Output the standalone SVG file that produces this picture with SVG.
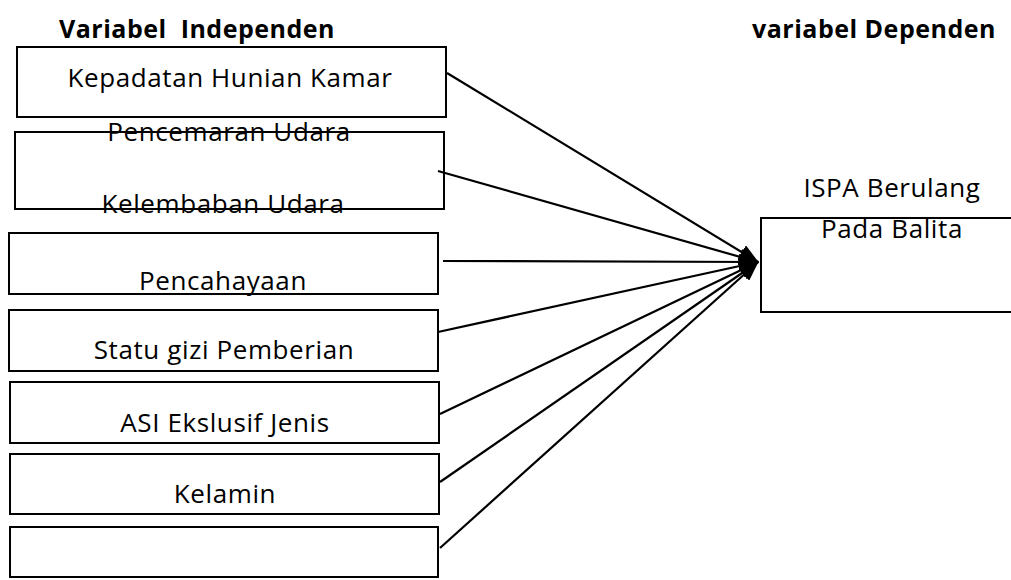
<svg xmlns="http://www.w3.org/2000/svg" width="1011" height="580" viewBox="0 0 1011 580">
<defs>
<style>
.box{fill:#fff;stroke:#000;stroke-width:2}
.t{font-family:"Open Sans","Liberation Sans",sans-serif;font-size:26px;letter-spacing:0.6px;fill:#000;text-anchor:middle}
.h{font-family:"Open Sans","Liberation Sans",sans-serif;font-size:25px;letter-spacing:0.5px;font-weight:bold;fill:#000;white-space:pre}
.c{stroke:#000;stroke-width:2.2;fill:none;marker-end:url(#ah)}
</style>
<marker id="ah" markerWidth="20" markerHeight="16" refX="19" refY="8" orient="auto" markerUnits="userSpaceOnUse" viewBox="0 0 20 16">
<path d="M0,0 L20,8 L0,16 z" fill="#000"/>
</marker>
</defs>
<rect width="1011" height="580" fill="#fff"/>
<text class="h" x="59" y="38" xml:space="preserve">Variabel  Independen</text>
<text class="h" x="752" y="38">variabel Dependen</text>
<g id="n1"><rect class="box" x="17" y="47" width="429" height="70"/><text class="t" x="230" y="87">Kepadatan Hunian Kamar</text></g>
<g id="n2"><rect class="box" x="15" y="132" width="429" height="77"/><text class="t" x="229" y="141">Pencemaran Udara</text><text class="t" x="223" y="213">Kelembaban Udara</text></g>
<g id="n3"><rect class="box" x="9" y="233" width="429" height="61"/><text class="t" x="223" y="290">Pencahayaan</text></g>
<g id="n4"><rect class="box" x="9" y="310" width="429" height="61"/><text class="t" x="224" y="359">Statu gizi Pemberian</text></g>
<g id="n5"><rect class="box" x="10" y="382" width="429" height="61"/><text class="t" x="225" y="432">ASI Ekslusif Jenis</text></g>
<g id="n6"><rect class="box" x="10" y="454" width="429" height="60"/><text class="t" x="225" y="503">Kelamin</text></g>
<g id="n7"><rect class="box" x="10" y="527" width="428" height="50"/></g>
<g id="n8"><rect class="box" x="761" y="218" width="252" height="94"/><text class="t" x="892" y="197">ISPA Berulang</text><text class="t" x="892" y="238">Pada Balita</text></g>
<g id="connectors">
<line class="c" x1="447" y1="73" x2="758" y2="262"/>
<line class="c" x1="438" y1="171" x2="758" y2="262"/>
<line class="c" x1="443" y1="261" x2="758" y2="262"/>
<line class="c" x1="438" y1="332" x2="758" y2="262"/>
<line class="c" x1="440" y1="414" x2="758" y2="262"/>
<line class="c" x1="440" y1="482" x2="758" y2="262"/>
<line class="c" x1="440" y1="548" x2="758" y2="262"/>
</g>
</svg>
